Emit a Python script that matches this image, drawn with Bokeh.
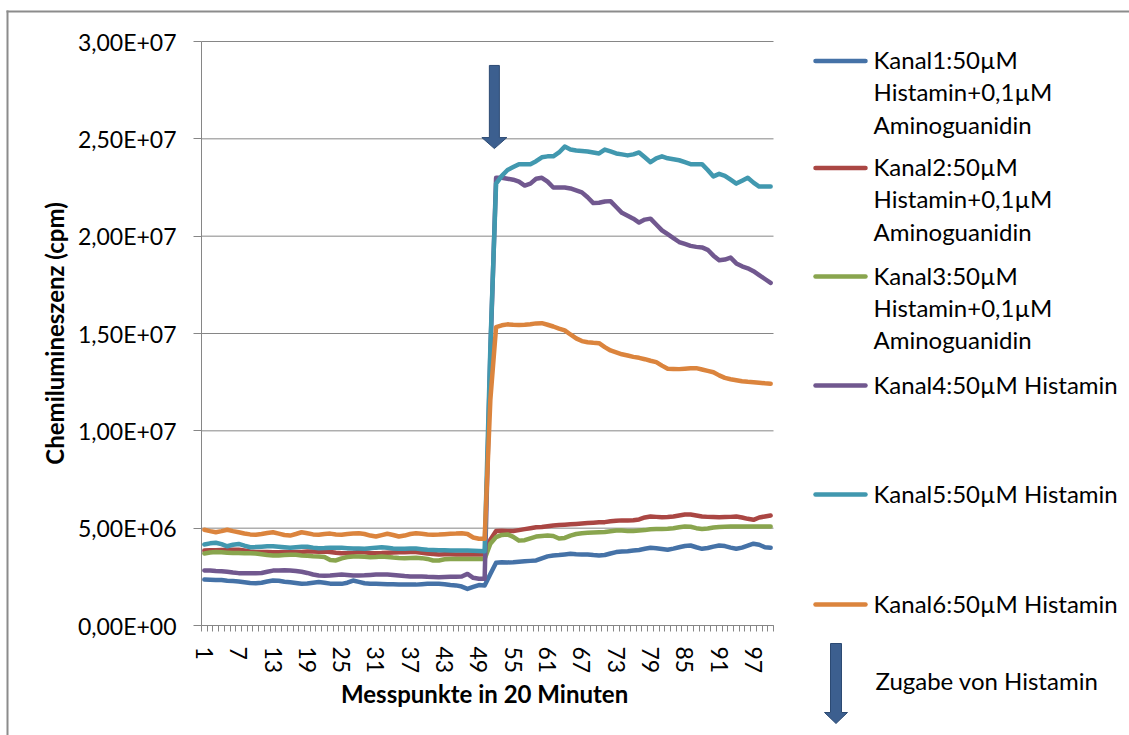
from bokeh.plotting import figure
from bokeh.models import FixedTicker, Range1d
from bokeh.core.properties import value
from bokeh.embed import file_html
from bokeh.resources import INLINE

# ---------------- data (values in millions of cpm) ----------------
Y_UNIT = 1e6
messpunkte = list(range(1, 101))

kanal1 = [2.36, 2.35, 2.34, 2.34, 2.30, 2.28, 2.26, 2.22, 2.18, 2.17,
          2.20, 2.26, 2.31, 2.30, 2.25, 2.22, 2.18, 2.14, 2.16, 2.20,
          2.23, 2.20, 2.15, 2.14, 2.14, 2.20, 2.31, 2.24, 2.17, 2.15,
          2.14, 2.13, 2.12, 2.12, 2.11, 2.11, 2.10, 2.10, 2.12, 2.14,
          2.14, 2.14, 2.12, 2.08, 2.06, 2.00, 1.88, 1.98, 2.08, 2.06,
          2.65, 3.22, 3.25, 3.24, 3.25, 3.28, 3.30, 3.32, 3.34, 3.45,
          3.55, 3.60, 3.62, 3.65, 3.68, 3.66, 3.65, 3.65, 3.62, 3.60,
          3.62, 3.70, 3.77, 3.80, 3.82, 3.85, 3.88, 3.94, 3.99, 3.97,
          3.93, 3.89, 3.95, 4.02, 4.08, 4.11, 4.02, 3.94, 3.98, 4.05,
          4.11, 4.08, 4.00, 3.94, 4.00, 4.10, 4.20, 4.15, 4.02, 3.99]

kanal2 = [3.85, 3.86, 3.87, 3.88, 3.88, 3.89, 3.89, 3.85, 3.80, 3.78,
          3.77, 3.77, 3.76, 3.76, 3.77, 3.77, 3.77, 3.78, 3.80, 3.80,
          3.79, 3.80, 3.78, 3.74, 3.71, 3.72, 3.74, 3.77, 3.76, 3.73,
          3.71, 3.72, 3.74, 3.75, 3.76, 3.76, 3.77, 3.77, 3.74, 3.70,
          3.67, 3.65, 3.66, 3.66, 3.65, 3.65, 3.65, 3.65, 3.65, 3.65,
          4.40, 4.85, 4.87, 4.86, 4.85, 4.90, 4.95, 5.00, 5.05, 5.06,
          5.10, 5.14, 5.16, 5.18, 5.20, 5.22, 5.24, 5.26, 5.28, 5.30,
          5.31, 5.35, 5.38, 5.40, 5.40, 5.41, 5.45, 5.55, 5.60, 5.58,
          5.56, 5.57, 5.60, 5.65, 5.70, 5.70, 5.65, 5.60, 5.58, 5.57,
          5.56, 5.57, 5.58, 5.60, 5.55, 5.48, 5.43, 5.55, 5.60, 5.65]

kanal3 = [3.70, 3.75, 3.77, 3.76, 3.74, 3.72, 3.72, 3.71, 3.71, 3.70,
          3.66, 3.62, 3.60, 3.60, 3.62, 3.64, 3.63, 3.60, 3.58, 3.56,
          3.55, 3.52, 3.36, 3.34, 3.45, 3.52, 3.55, 3.55, 3.53, 3.51,
          3.52, 3.54, 3.52, 3.49, 3.47, 3.46, 3.47, 3.48, 3.46, 3.42,
          3.34, 3.34, 3.40, 3.42, 3.42, 3.42, 3.42, 3.42, 3.42, 3.42,
          4.20, 4.54, 4.65, 4.68, 4.55, 4.36, 4.38, 4.48, 4.57, 4.60,
          4.62, 4.60, 4.47, 4.50, 4.62, 4.70, 4.74, 4.76, 4.78, 4.79,
          4.80, 4.84, 4.88, 4.88, 4.85, 4.86, 4.88, 4.90, 4.94, 4.96,
          4.96, 4.97, 5.00, 5.05, 5.09, 5.07, 5.00, 4.96, 4.98, 5.03,
          5.06, 5.07, 5.08, 5.09, 5.09, 5.09, 5.08, 5.08, 5.08, 5.08]

kanal4 = [2.83, 2.82, 2.80, 2.79, 2.76, 2.72, 2.69, 2.68, 2.69, 2.69,
          2.70, 2.76, 2.82, 2.83, 2.84, 2.83, 2.80, 2.76, 2.70, 2.62,
          2.57, 2.56, 2.57, 2.60, 2.62, 2.60, 2.57, 2.57, 2.58, 2.60,
          2.62, 2.62, 2.62, 2.60, 2.57, 2.54, 2.52, 2.52, 2.52, 2.50,
          2.49, 2.48, 2.49, 2.50, 2.51, 2.52, 2.65, 2.45, 2.40, 2.40,
          14.0, 23.0, 23.0, 22.95, 22.9, 22.8, 22.6, 22.7, 22.95, 23.0,
          22.8, 22.5, 22.5, 22.5, 22.45, 22.35, 22.25, 22.0, 21.7, 21.72,
          21.78, 21.8, 21.5, 21.2, 21.05, 20.9, 20.7, 20.85, 20.9, 20.6,
          20.3, 20.1, 19.9, 19.7, 19.6, 19.5, 19.45, 19.42, 19.3, 19.0,
          18.76, 18.8, 18.9, 18.6, 18.45, 18.35, 18.2, 18.0, 17.8, 17.6]

kanal5 = [4.16, 4.22, 4.25, 4.18, 4.07, 4.15, 4.19, 4.10, 4.02, 4.03,
          4.05, 4.07, 4.07, 4.05, 4.02, 3.99, 4.02, 4.04, 4.05, 4.00,
          3.97, 3.98, 4.00, 3.99, 3.99, 3.97, 3.95, 3.95, 3.94, 3.97,
          4.00, 4.02, 3.99, 3.96, 3.94, 3.94, 3.96, 3.95, 3.92, 3.89,
          3.88, 3.87, 3.86, 3.85, 3.85, 3.85, 3.85, 3.84, 3.83, 3.82,
          14.3, 22.7, 23.1, 23.4, 23.55, 23.7, 23.7, 23.7, 23.85, 24.05,
          24.1, 24.1, 24.3, 24.6, 24.45, 24.4, 24.38, 24.35, 24.3, 24.25,
          24.45, 24.35, 24.25, 24.2, 24.15, 24.2, 24.3, 24.05, 23.8, 24.0,
          24.1, 24.0, 23.95, 23.9, 23.8, 23.7, 23.7, 23.7, 23.4, 23.07,
          23.2, 23.1, 22.9, 22.7, 22.85, 23.0, 22.75, 22.55, 22.55, 22.55]

kanal6 = [4.92, 4.85, 4.79, 4.85, 4.92, 4.85, 4.79, 4.73, 4.68, 4.66,
          4.70, 4.75, 4.79, 4.72, 4.65, 4.62, 4.70, 4.79, 4.74, 4.68,
          4.66, 4.70, 4.72, 4.68, 4.66, 4.70, 4.73, 4.74, 4.70, 4.62,
          4.57, 4.64, 4.71, 4.65, 4.57, 4.62, 4.70, 4.74, 4.71, 4.68,
          4.66, 4.67, 4.69, 4.71, 4.72, 4.74, 4.70, 4.52, 4.46, 4.45,
          11.6, 15.33, 15.42, 15.47, 15.45, 15.44, 15.45, 15.48, 15.52, 15.53,
          15.45, 15.36, 15.25, 15.16, 14.95, 14.75, 14.61, 14.55, 14.52, 14.50,
          14.30, 14.13, 14.03, 13.93, 13.87, 13.80, 13.75, 13.68, 13.60, 13.53,
          13.35, 13.19, 13.18, 13.17, 13.19, 13.21, 13.22, 13.15, 13.08, 13.01,
          12.85, 12.72, 12.65, 12.60, 12.55, 12.52, 12.50, 12.47, 12.44, 12.42]

legend_lines = [["Kanal1:50µM", "Histamin+0,1µM", "Aminoguanidin"],
                ["Kanal2:50µM", "Histamin+0,1µM", "Aminoguanidin"],
                ["Kanal3:50µM", "Histamin+0,1µM", "Aminoguanidin"],
                ["Kanal4:50µM Histamin"],
                ["Kanal5:50µM Histamin"],
                ["Kanal6:50µM Histamin"]]
series = [kanal1, kanal2, kanal3, kanal4, kanal5, kanal6]
colors = ["#4572A7", "#AA4643", "#89A54E", "#71588F", "#4198AF", "#DB843D"]

y_ticks = [0, 5000000, 10000000, 15000000, 20000000, 25000000, 30000000]
y_tick_labels = ["0,00E+00", "5,00E+06", "1,00E+07", "1,50E+07",
                 "2,00E+07", "2,50E+07", "3,00E+07"]
x_tick_labels = list(range(1, 101, 6))

annotation_text = "Zugabe von Histamin"
y_title = "Chemilumineszenz (cpm)"
x_title = "Messpunkte in 20  Minuten"

# arrow marking the histamine addition (category position, value range)
ARROW_X = 51.7
ARROW_TOP = 2.877e7
ARROW_TIP = 2.45e7

FONT = "Lato"
GRID = "#868686"
BORDER = "#8c8c8c"
ARROW_FILL = "#3c5f8f"
ARROW_LINE = "#2c4a73"

# ---------------- layout (page pixels) ----------------
W, H = 1129, 735
FL, FR, FT, FB = 201, 773, 41, 625          # plot area on the page
X0, X1 = 0.5, 100.5                          # category axis extent
Y0, Y1 = 0.0, 3e7                            # value axis extent
SX = (X1 - X0) / (FR - FL)                   # data units per pixel
SY = (Y1 - Y0) / (FB - FT)


def gx(px):
    return X0 + (px - FL) * SX


def gy(py):
    return Y0 + (FB - py) * SY


p = figure(width=W, height=H,
           x_range=Range1d(gx(0), gx(W)), y_range=Range1d(gy(H), gy(0)),
           output_backend="svg", toolbar_location=None, min_border=0)
p.title.visible = False
p.outline_line_color = None
p.background_fill_color = "white"
p.border_fill_color = "white"
p.xgrid.visible = False
p.ygrid.visible = False

# horizontal gridlines over the plot area
p.segment(x0=[X0] * len(y_ticks), y0=y_ticks, x1=[X1] * len(y_ticks),
          y1=y_ticks, line_color=GRID, line_width=1)

for vals, col in zip(series, colors):
    p.line(messpunkte, [v * Y_UNIT for v in vals], line_color=col,
           line_width=4.5, line_join="round", line_cap="round")

# block arrow inside the plot
shaft, head, head_len = 5.0, 12.5, 11.0
ax = [ARROW_X - shaft * SX, ARROW_X + shaft * SX, ARROW_X + shaft * SX,
      ARROW_X + head * SX, ARROW_X, ARROW_X - head * SX, ARROW_X - shaft * SX]
base = ARROW_TIP + head_len * SY
ay = [ARROW_TOP, ARROW_TOP, base, base, ARROW_TIP, base, base]
p.patch(ax, ay, fill_color=ARROW_FILL, line_color=ARROW_LINE, line_width=1)

# y axis (fixed at the left edge of the plot area)
yax = p.yaxis[0]
yax.fixed_location = X0
yax.bounds = (Y0, Y1)
yax.ticker = FixedTicker(ticks=y_ticks, minor_ticks=[])
yax.major_label_overrides = {t: l for t, l in zip(y_ticks, y_tick_labels)}
yax.axis_line_color = GRID
yax.major_tick_line_color = GRID
yax.major_tick_out = 8
yax.major_tick_in = 0
yax.major_label_standoff = 17
yax.major_label_text_font = FONT
yax.major_label_text_font_size = "23px"
yax.major_label_text_color = "#000000"
yax.axis_label = y_title
yax.axis_label_text_font = FONT
yax.axis_label_text_font_size = "24px"
yax.axis_label_text_font_style = "bold"
yax.axis_label_text_color = "#000000"
yax.axis_label_standoff = 6

# x axis (fixed at value 0)
xax = p.xaxis[0]
xax.fixed_location = Y0
xax.bounds = (X0, X1)
xax.ticker = FixedTicker(ticks=x_tick_labels,
                         minor_ticks=[i + 0.5 for i in range(0, 101)])
xax.major_label_overrides = {t: str(t) for t in x_tick_labels}
xax.major_label_orientation = "vertical"
xax.axis_line_color = GRID
xax.major_tick_line_color = None
xax.major_tick_out = 0
xax.major_tick_in = 0
xax.minor_tick_line_color = GRID
xax.minor_tick_out = 6
xax.minor_tick_in = 0
xax.major_label_standoff = 15
xax.major_label_text_font = FONT
xax.major_label_text_font_size = "23px"
xax.major_label_text_color = "#000000"
xax.axis_label = x_title
xax.axis_label_text_font = FONT
xax.axis_label_text_font_size = "24px"
xax.axis_label_text_font_style = "bold"
xax.axis_label_text_color = "#000000"
xax.axis_label_standoff = 3

# outer chart border (left and top)
p.quad(left=[gx(6), gx(6)], right=[gx(W + 2), gx(8)],
       top=[gy(10), gy(10)], bottom=[gy(12), gy(H + 2)],
       fill_color=BORDER, line_color=None)

# ---------------- legend (right of the plot area) ----------------
entry_centers = [61.5, 168.5, 277.0, 386.0, 495.0, 605.0]
LINE_X0, LINE_X1, TEXT_X, LINE_GAP = 815, 865, 873, 32.3
TEXT_DY = -2.5   # baseline offset relative to the legend line
tx, ty, tt = [], [], []
for c, lines, col in zip(entry_centers, legend_lines, colors):
    p.line([gx(LINE_X0), gx(LINE_X1)], [gy(c - 1), gy(c - 1)],
           line_color=col, line_width=4.5, line_cap="round")
    for k, s in enumerate(lines):
        tx.append(gx(TEXT_X))
        ty.append(gy(c + TEXT_DY + LINE_GAP * k))
        tt.append(s)
tx.append(gx(875))
ty.append(gy(680))
tt.append(annotation_text)
p.text(x=tx, y=ty, text=tt, text_font=value(FONT), text_font_size="24px",
       text_baseline="alphabetic", text_align="left", text_color="#000000")

# legend arrow
lax = [830, 841, 841, 847, 835.5, 824, 830]
lay = [643, 643, 712, 712, 723, 712, 712]
p.patch([gx(v) for v in lax], [gy(v) for v in lay],
        fill_color=ARROW_FILL, line_color=ARROW_LINE, line_width=1)

open("out.html", "w").write(file_html(p, INLINE))
